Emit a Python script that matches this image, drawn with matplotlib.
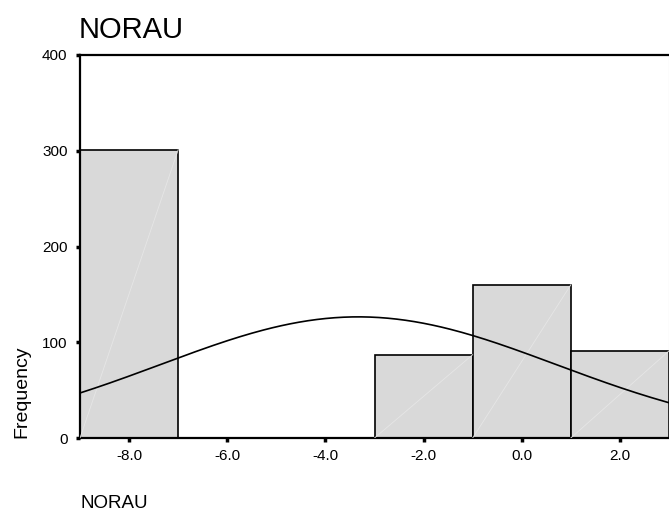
import numpy as np
import matplotlib.pyplot as plt

plt.rcParams['font.family'] = ['Liberation Sans', 'DejaVu Sans']

# histogram of NORAU (bin edges and counts)
bin_edges = [-9, -7, -5, -3, -1, 1, 3]
counts = [301, 0, 0, 87, 160, 91]
x_ticks = [-8, -6, -4, -2, 0, 2]
x_tick_labels = ["-8.0", "-6.0", "-4.0", "-2.0", "0.0", "2.0"]
y_ticks = [0, 100, 200, 300, 400]

# normal curve parameters (estimated from the drawn curve)
curve_mean = -3.33
curve_sd = 4.03

fig = plt.figure(figsize=(6.69, 5.15), dpi=100)
ax = fig.add_axes([80 / 669, 77 / 515, 589 / 669, 383 / 515])

lefts = np.array(bin_edges[:-1])
widths = np.diff(bin_edges)
for x0, w, c in zip(lefts, widths, counts):
    if c <= 0:
        continue
    ax.bar(x0, c, width=w, align='edge', color='#d9d9d9',
           edgecolor='black', linewidth=1.2, zorder=2)
    # faint diagonal drawn inside each bar
    ax.plot([x0, x0 + w], [0, c], color='#e6e6e6', linewidth=0.6, zorder=3)

# normal curve scaled to counts
n = sum(counts)
bw = widths[0]
xs = np.linspace(bin_edges[0], bin_edges[-1], 200)
ys = n * bw / (curve_sd * np.sqrt(2 * np.pi)) * np.exp(-0.5 * ((xs - curve_mean) / curve_sd) ** 2)
ax.plot(xs, ys, color='black', linewidth=1.2, zorder=4)

ax.set_xlim(bin_edges[0], bin_edges[-1])
ax.set_ylim(0, 400)
ax.set_xticks(x_ticks)
ax.set_xticklabels(x_tick_labels)
ax.set_yticks(y_ticks)

for side in ['left', 'bottom', 'top']:
    ax.spines[side].set_linewidth(1.6)
ax.spines['right'].set_color('#d0d0d0')
ax.tick_params(axis='both', direction='out', length=3, width=2.5, labelsize=11)
ax.tick_params(axis='x', pad=5)
ax.tick_params(axis='y', pad=6)

fig.text(79 / 669, 1 - 30 / 515, "NORAU", fontsize=21, ha='left', va='center')
fig.text(80 / 669, 1 - 503 / 515, "NORAU", fontsize=13.5, ha='left', va='center')
fig.text(22 / 669, 1 - 392 / 515, "Frequency", fontsize=14, rotation=90,
         ha='center', va='center')

fig.savefig("out.png", dpi=100)
